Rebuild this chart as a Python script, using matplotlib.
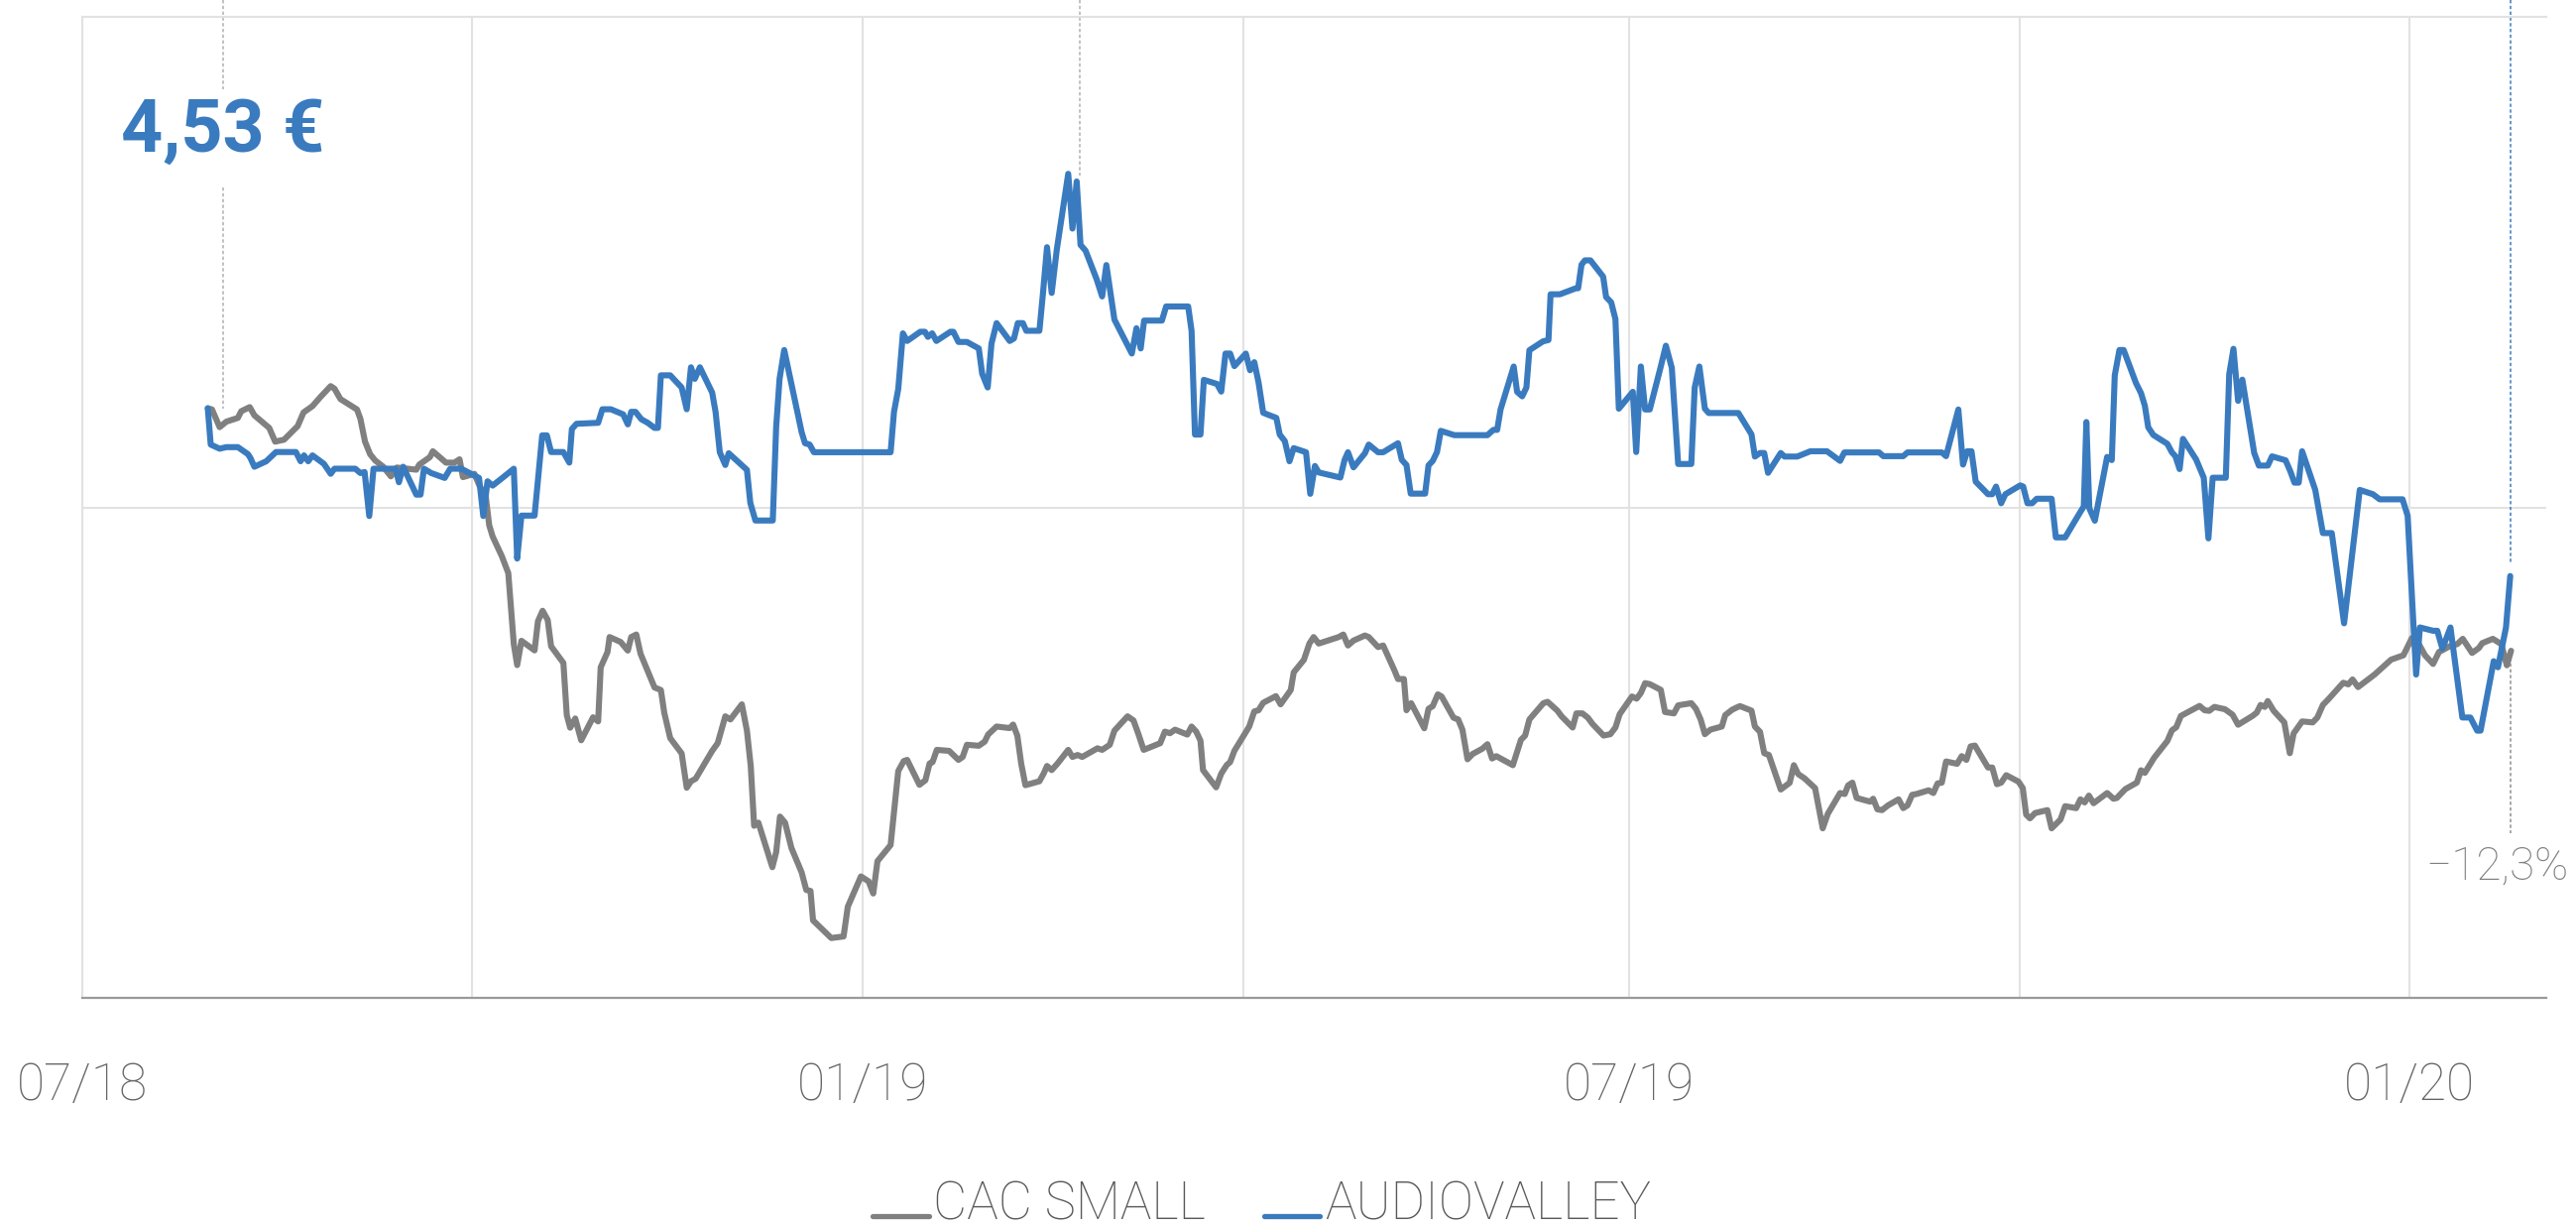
import matplotlib
matplotlib.use('Agg')
import matplotlib.pyplot as plt
import matplotlib.dates as mdates
from matplotlib.lines import Line2D
import numpy as np
import pandas as pd

plt.rcParams['font.family'] = ['Roboto', 'DejaVu Sans']

# ------------------- data (rebased to 100, x = days since 2018-07-01) -------------------
start = pd.Timestamp('2018-07-01')

cac_day = [29.6, 30.6, 32.4, 34.0, 36.7, 37.5, 39.5, 40.6, 44.1, 45.5, 47.6, 50.8, 52.2, 54.3, 56.2,
           58.6, 59.5, 60.9, 64.8, 65.6, 66.7, 67.9, 69.1, 71.0, 72.8, 74.2, 78.8, 79.5, 82.0, 82.7,
           85.8, 87.8, 89.0, 89.8, 92.5, 93.7, 95.2, 96.0, 96.8, 99.0, 100.5, 101.8, 102.6, 103.6, 106.7,
           107.5, 108.6, 109.8, 110.6, 113.5, 114.3, 115.1, 116.3, 117.7, 120.5, 121.7, 122.3, 123.9, 124.4,
           127.0, 128.7, 129.5, 130.7, 131.7, 135.0, 136.5, 137.3, 138.7, 141.4, 142.6, 143.6, 144.7, 148.6,
           149.9, 151.7, 152.9, 155.6, 156.8, 157.7, 158.5, 159.5, 162.8, 163.7, 164.6, 165.8, 167.3, 169.7,
           170.8, 171.8, 172.4, 176.7, 179.6, 180.6, 183.7, 185.5, 186.6, 187.6, 190.7, 192.5, 193.8, 194.6,
           197.5, 198.9, 199.9, 200.6, 201.6, 204.5, 206.7, 207.7, 208.7, 211.5, 212.9, 213.7, 215.7, 218.8,
           219.6, 220.6, 221.5, 222.5, 225.8, 226.8, 227.6, 228.7, 230.1, 232.6, 233.6, 234.8, 235.9, 239.5,
           240.6, 242.4, 243.5, 246.6, 248.0, 249.2, 250.4, 254.3, 255.4, 256.6, 257.8, 260.7, 261.7, 262.8,
           263.8, 264.4, 267.5, 268.7, 270.0, 270.8, 271.8, 275.3, 276.5, 277.5, 278.6, 281.6, 282.7, 285.1,
           285.8, 288.2, 289.5, 290.5, 291.7, 296.4, 297.5, 298.6, 299.9, 302.6, 303.5, 305.7, 306.9, 309.6,
           310.4, 311.8, 312.4, 313.5, 316.6, 317.6, 318.6, 319.8, 320.7, 323.5, 324.6, 325.6, 326.8, 328.0,
           330.3, 331.5, 332.6, 333.6, 337.5, 339.4, 340.4, 341.4, 344.7, 345.7, 348.0, 349.0, 351.6, 352.5,
           353.9, 355.2, 356.3, 358.9, 360.5, 361.7, 362.7, 365.6, 366.7, 367.7, 368.7, 369.8, 372.4, 373.4,
           375.5, 376.5, 379.6, 380.7, 381.8, 382.8, 384.1, 386.8, 387.6, 389.2, 390.3, 391.1, 393.8, 394.6,
           395.8, 396.8, 397.9, 400.7, 402.8, 403.8, 404.8, 406.3, 408.8, 410.6, 411.8, 414.7, 415.8, 416.6,
           417.6, 418.6, 421.8, 422.5, 423.5, 424.6, 426.0, 428.5, 429.6, 430.6, 431.7, 432.7, 435.6, 436.7,
           437.7, 438.7, 439.7, 442.3, 443.4, 444.5, 445.5, 446.5, 449.6, 450.6, 451.7, 452.7, 453.9, 456.8,
           457.8, 458.6, 459.5, 460.7, 463.6, 464.6, 466.7, 467.8, 470.4, 471.4, 472.4, 473.4, 474.5, 477.7,
           479.2, 480.0, 482.0, 484.7, 485.7, 486.6, 488.8, 491.9, 493.0, 494.0, 495.1, 499.5, 500.7, 501.8,
           503.0, 505.5, 507.3, 508.6, 512.0, 513.0, 513.9, 514.9, 515.6, 517.0, 519.5, 520.8, 521.7, 523.7,
           526.2, 527.3, 528.6, 529.9, 533.4, 534.6, 535.6, 536.9, 540.8, 544.7, 547.6, 549.6, 550.7, 552.7,
           554.6, 556.0, 558.5, 560.3, 561.6, 563.8, 565.4, 566.2, 568.7, 570.7, 572.0, 573.0]
cac_val = [100.05, 99.99, 99.09, 99.37, 99.56, 99.90, 100.11, 99.69, 99.05, 98.35, 98.45, 99.14, 99.84, 100.16, 100.63,
           101.18, 101.05, 100.52, 99.99, 99.52, 98.35, 97.71, 97.39, 97.07, 96.58, 97.03, 96.92, 97.18, 97.56, 97.86,
           97.28, 97.28, 97.45, 96.54, 96.71, 96.11, 95.52, 94.09, 93.52, 92.50, 91.65, 88.03, 86.96, 88.20, 87.71,
           89.20, 89.73, 89.26, 87.92, 87.07, 84.41, 83.77, 84.24, 83.13, 84.30, 84.09, 86.85, 87.62, 88.39,
           88.14, 87.70, 88.39, 88.52, 87.54, 85.82, 85.69, 84.53, 83.24, 82.46, 80.71, 81.04, 81.17, 82.59,
           82.98, 84.35, 84.19, 84.96, 83.62, 81.82, 78.77, 78.93, 76.66, 77.43, 79.24, 78.93, 77.64, 76.40,
           75.50, 75.45, 73.95, 73.05, 73.13, 74.65, 76.19, 75.94, 75.32, 76.97, 77.79, 81.56, 82.07, 82.13,
           80.86, 81.09, 81.95, 82.02, 82.64, 82.59, 82.13, 82.28, 82.90, 82.85, 83.06, 83.42, 83.83, 83.75,
           83.93, 83.36, 81.95, 80.84, 81.04, 81.43, 81.82, 81.61, 81.95, 82.64, 82.28, 82.38, 82.28, 82.72,
           82.64, 82.90, 83.62, 84.35, 84.14, 83.42, 82.64, 82.98, 83.57, 83.49, 83.67, 83.42, 83.83, 83.57,
           83.11, 81.61, 80.73, 81.43, 81.87, 82.02, 82.59, 83.83, 84.60, 84.66, 85.04, 85.38, 84.96, 85.69,
           86.59, 87.23, 88.06, 88.39, 88.06, 88.39, 88.52, 87.96, 88.21, 88.47, 88.39, 87.88, 87.96, 86.67,
           86.25, 86.25, 84.66, 85.02, 83.74, 84.73, 84.87, 85.47, 85.36, 84.28, 84.19, 83.67, 82.16, 82.43,
           82.70, 82.93, 82.20, 82.32, 81.86, 83.15, 83.37, 84.19, 85.02, 85.09, 84.64, 84.35, 83.78, 84.50,
           84.50, 84.28, 83.96, 83.37, 83.44, 83.78, 84.46, 85.36, 85.25, 85.54, 86.04, 85.99, 85.70, 84.57,
           84.50, 84.91, 85.02, 84.73, 84.19, 83.44, 83.67, 83.83, 84.41, 84.68, 84.80, 84.87, 84.64, 83.83,
           83.56, 82.47, 82.38, 80.62, 80.96, 81.86, 81.41, 81.19, 80.69, 78.64, 79.38, 80.44, 80.39, 80.83,
           80.97, 80.19, 80.00, 80.15, 79.61, 79.57, 79.81, 80.12, 79.67, 79.81, 80.35, 80.39, 80.58, 80.44,
           80.93, 80.97, 82.05, 81.93, 82.32, 82.13, 82.82, 82.86, 81.74, 81.74, 80.89, 80.97, 81.35, 81.02,
           80.69, 79.34, 79.15, 79.42, 79.57, 78.64, 79.09, 79.77, 79.67, 80.12, 79.96, 80.31, 79.92, 80.44,
           80.15, 80.19, 80.64, 80.97, 81.60, 81.47, 82.24, 83.09, 83.64, 83.79, 84.37, 84.88, 84.66, 84.63,
           84.83, 84.71, 84.43, 83.92, 84.37, 84.54, 84.93, 84.83, 85.13, 84.63, 84.04, 82.47, 83.48, 84.09,
           84.04, 84.29, 84.93, 85.22, 86.06, 85.98, 86.23, 85.84, 86.48, 87.24, 87.46, 88.34, 88.25, 87.46,
           87.02, 87.63, 87.92, 88.03, 88.30, 87.58, 87.83, 88.08, 88.30, 88.03, 86.95, 87.69]

av_day = [29.6, 30.3, 32.4, 34.0, 36.7, 39.1, 39.7, 40.6, 43.4, 45.7, 50.4, 51.5, 52.3, 53.3, 54.3,
          57.0, 58.6, 59.5, 64.4, 65.6, 66.6, 67.7, 68.7, 73.9, 74.7, 75.7, 78.8, 79.8, 80.6, 82.3,
          85.5, 86.8, 89.4, 93.6, 94.6, 95.6, 96.8, 99.1, 101.8, 102.6, 103.6, 106.7, 108.5, 109.6, 110.6,
          113.5, 114.9, 115.5, 116.6, 121.7, 122.7, 124.7, 127.6, 128.7, 129.5, 130.5, 131.9, 133.4, 135.0,
          135.8, 136.5, 138.7, 141.4, 142.6, 143.6, 144.5, 145.7, 148.6, 149.4, 150.4, 151.7, 152.5, 156.8,
          157.6, 158.8, 162.9, 163.7, 164.5, 165.6, 169.7, 170.5, 171.6, 172.6, 190.7, 191.5, 192.5, 193.6,
          194.6, 197.7, 198.8, 199.5, 200.5, 201.5, 204.8, 205.5, 206.7, 208.7, 211.5, 212.3, 213.6, 214.5,
          215.7, 218.8, 219.8, 220.7, 221.9, 222.7, 225.8, 226.6, 227.6, 228.7, 229.9, 232.6, 233.6, 234.6,
          235.5, 236.7, 239.3, 240.6, 241.6, 243.5, 247.6, 248.7, 249.7, 250.5, 254.7, 255.7, 260.9, 261.7,
          262.5, 263.8, 264.6, 267.7, 268.7, 269.7, 270.8, 271.8, 274.5, 275.5, 276.5, 277.5, 278.6, 281.7,
          282.5, 283.7, 284.8, 285.8, 288.7, 289.7, 290.8, 291.7, 296.8, 297.8, 298.6, 299.9, 302.6, 303.5,
          305.7, 306.9, 310.4, 311.3, 312.4, 313.4, 316.8, 317.6, 318.6, 319.6, 320.5, 323.7, 331.5, 332.9,
          333.8, 334.6, 337.7, 338.5, 339.7, 340.7, 341.4, 344.6, 345.9, 346.4, 348.6, 352.4, 352.9, 353.7,
          354.5, 355.8, 358.8, 359.5, 360.7, 361.7, 362.5, 365.8, 366.6, 367.7, 368.7, 369.8, 372.4, 373.6,
          375.0, 376.5, 379.6, 380.4, 381.5, 382.8, 383.7, 390.7, 393.8, 394.6, 395.8, 396.8, 397.7, 400.7,
          401.6, 404.6, 407.7, 411.6, 414.7, 415.7, 423.9, 424.9, 429.6, 430.6, 438.7, 439.7, 442.6, 443.7,
          444.7, 445.7, 446.7, 449.6, 450.6, 451.5, 452.7, 453.7, 457.2, 457.9, 458.9, 460.0, 461.1, 464.6,
          465.6, 467.8, 471.2, 472.2, 472.8, 473.5, 474.8, 477.7, 478.8, 479.5, 480.6, 481.6, 484.5, 485.7,
          486.6, 487.4, 488.6, 491.9, 493.0, 493.8, 494.8, 495.6, 498.7, 500.5, 501.6, 502.6, 505.7, 506.5,
          507.5, 508.6, 509.6, 512.4, 513.5, 515.6, 516.6, 519.8, 520.9, 521.9, 522.9, 523.7, 526.8, 528.6,
          530.7, 533.6, 537.3, 540.4, 542.0, 547.4, 548.6, 550.6, 551.5, 554.6, 555.6, 556.8, 558.7, 561.5,
          563.4, 565.0, 565.8, 568.9, 569.9, 571.8, 572.8]
av_val = [100.05, 98.20, 97.99, 98.07, 98.07, 97.71, 97.50, 97.07, 97.35, 97.82, 97.82, 97.35, 97.65, 97.35, 97.65,
          97.22, 96.71, 96.97, 96.97, 96.75, 96.80, 94.56, 96.97, 96.97, 96.28, 97.07, 95.65, 95.65, 96.97, 96.75,
          96.50, 96.97, 96.97, 96.50, 94.56, 96.33, 96.11, 96.50, 96.97, 92.39, 94.58, 94.58, 98.67, 98.67, 97.82,
          97.82, 97.28, 98.99, 99.26, 99.31, 100.00, 100.00, 99.74, 99.23, 99.87, 99.87, 99.49, 99.31, 99.05,
          99.05, 101.73, 101.73, 101.11, 100.00, 102.14, 101.55, 102.14, 100.85, 99.87, 97.81, 97.16, 97.76, 96.91,
          95.23, 94.33, 94.33, 99.10, 101.55, 103.02, 98.84, 98.27, 98.20, 97.81, 97.81, 99.87, 101.03, 103.87,
          103.48, 103.95, 103.95, 103.69, 103.87, 103.48, 103.95, 103.95, 103.43, 103.43, 103.10, 101.81, 101.11, 103.35,
          104.39, 103.48, 103.61, 104.39, 104.39, 104.00, 104.00, 105.81, 108.26, 105.93, 108.13, 112.00, 109.21, 111.61,
          108.38, 108.08, 106.63, 105.75, 107.35, 104.57, 102.84, 104.13, 103.10, 104.52, 104.52, 105.24, 105.24, 104.00,
          98.71, 98.71, 101.50, 101.29, 100.90, 102.84, 102.84, 102.20, 102.84, 101.99, 102.40, 101.37, 99.82, 99.56,
          98.71, 98.38, 97.35, 98.02, 97.81, 95.69, 97.11, 96.78, 96.52, 97.42, 97.81, 97.04, 97.76, 98.20,
          97.81, 97.81, 98.27, 97.42, 97.16, 95.70, 95.70, 97.14, 97.37, 97.82, 98.90, 98.68, 98.68, 98.95,
          98.95, 99.99, 102.18, 100.89, 100.66, 101.11, 103.01, 103.46, 103.53, 105.86, 105.86, 106.17, 106.17, 107.37,
          107.59, 107.59, 106.76, 105.72, 105.45, 104.59, 100.03, 100.89, 97.82, 102.18, 99.99, 99.99, 102.18, 103.24,
          102.11, 97.21, 97.21, 101.11, 102.18, 100.03, 99.81, 99.81, 98.72, 97.59, 97.77, 97.77, 96.76, 97.77,
          97.59, 97.59, 97.86, 97.86, 97.37, 97.80, 97.80, 97.61, 97.61, 97.80, 97.80, 97.61, 99.99, 97.18,
          97.86, 97.86, 96.31, 95.67, 95.67, 96.06, 95.21, 95.67, 96.12, 96.06, 95.21, 95.21, 95.44, 95.44,
          93.47, 93.47, 94.70, 95.05, 99.35, 94.95, 94.32, 97.57, 97.41, 101.73, 103.02, 103.02, 101.34, 100.82,
          100.18, 99.08, 98.69, 98.24, 97.80, 97.61, 96.95, 98.49, 97.44, 96.51, 93.42, 96.51, 96.51, 101.78,
          103.08, 100.43, 101.51, 97.77, 97.13, 97.13, 97.60, 97.40, 96.85, 96.26, 96.26, 97.86, 95.89, 93.69,
          93.69, 89.09, 95.89, 95.67, 95.41, 95.41, 94.57, 86.48, 88.88, 88.71, 88.71, 87.80, 88.88, 84.29,
          84.29, 83.62, 83.62, 87.16, 86.85, 88.88, 91.50]

series_names = ['CAC SMALL', 'AUDIOVALLEY']
price_label = '4,53 €'
perf_label = '−12,3%'

GREY = '#808080'
BLUE = '#3a7bbf'
GRID = '#e2e2e2'


def to_dates(days):
    return start + pd.to_timedelta(np.array(days), unit='D')


def main():
    W, H = 2598, 1238
    fig = plt.figure(figsize=(W / 100, H / 100), dpi=100)
    ax = fig.add_axes([83 / W, 1 - 1006 / H, (2568 - 83) / W, (1006 - 17) / H])

    cac_dates = to_dates(cac_day)
    av_dates = to_dates(av_day)

    ax.plot(cac_dates, cac_val, color=GREY, lw=4.4, solid_joinstyle='round', solid_capstyle='round', zorder=3)
    ax.plot(av_dates, av_val, color=BLUE, lw=4.4, solid_joinstyle='round', solid_capstyle='round', zorder=4)

    ax.set_xlim(start, start + pd.Timedelta(days=581.3))
    ax.set_ylim(70, 120)

    # axes / grid
    ax.set_axisbelow(True)
    ax.set_yticks([95])
    ax.tick_params(axis='y', length=0, labelleft=False)
    ax.xaxis.set_major_locator(mdates.MonthLocator(bymonth=[1, 7]))
    ax.xaxis.set_minor_locator(mdates.MonthLocator(bymonth=[4, 10]))
    ax.xaxis.set_major_formatter(mdates.DateFormatter('%m/%y'))
    ax.tick_params(axis='x', which='both', length=0, pad=46, labelsize=37, labelcolor='#666666')
    for lab in ax.get_xticklabels():
        lab.set_fontweight('light')
    ax.grid(True, which='both', axis='x', color=GRID, lw=1.5)
    ax.grid(True, axis='y', color=GRID, lw=1.5)
    ax.spines['right'].set_visible(False)
    ax.spines['top'].set_color(GRID)
    ax.spines['left'].set_color(GRID)
    ax.spines['top'].set_linewidth(1.5)
    ax.spines['left'].set_linewidth(1.5)
    ax.spines['bottom'].set_color('#9a9a9a')
    ax.spines['bottom'].set_linewidth(1.6)

    dash = (0, (2.2, 1.6))
    top_out = 120.86  # figure top edge in data units

    # price label on the left
    px = start + pd.Timedelta(days=33.2)
    ax.plot([px, px], [top_out, 116.3], color='#b0b0b0', lw=1.1, ls=dash, clip_on=False, zorder=2)
    ax.plot([px, px], [111.3, av_val[0]], color='#b0b0b0', lw=1.1, ls=dash, clip_on=False, zorder=2)
    ax.text(px, 113.12, price_label, ha='center', va='baseline', fontsize=53,
            fontweight='bold', color=BLUE)

    # marker above the peak
    mx = start + pd.Timedelta(days=235.3)
    ax.plot([mx, mx], [top_out, 111.9], color='#b0b0b0', lw=1.1, ls=dash, clip_on=False, zorder=2)

    # end markers
    ex = av_dates[-1]
    ax.plot([ex, ex], [top_out, av_val[-1] + 0.6], color=BLUE, lw=1.1, ls=dash, clip_on=False, zorder=2)
    ax.plot([ex, ex], [cac_val[-1] - 0.35, 78.4], color='#909090', lw=1.1, ls=dash, clip_on=False, zorder=2)
    fig.text(2591 / W, 1 - 887 / H, perf_label, ha='right', va='baseline', fontsize=33,
             fontweight='light', color=GREY)

    # legend drawn by hand (handle sits on the text baseline)
    for (x0, x1, tx), name, col in zip([(880, 937, 941), (1275, 1331, 1336)], series_names, [GREY, BLUE]):
        fig.add_artist(Line2D([x0 / W, x1 / W], [1 - 1226 / H, 1 - 1226 / H], color=col, lw=3.8,
                              solid_capstyle='round', transform=fig.transFigure))
        fig.text(tx / W, 1 - 1230 / H, name, ha='left', va='baseline', fontsize=38,
                 fontweight='light', color='#595959')

    fig.savefig('out.png', dpi=100)


if __name__ == '__main__':
    main()
